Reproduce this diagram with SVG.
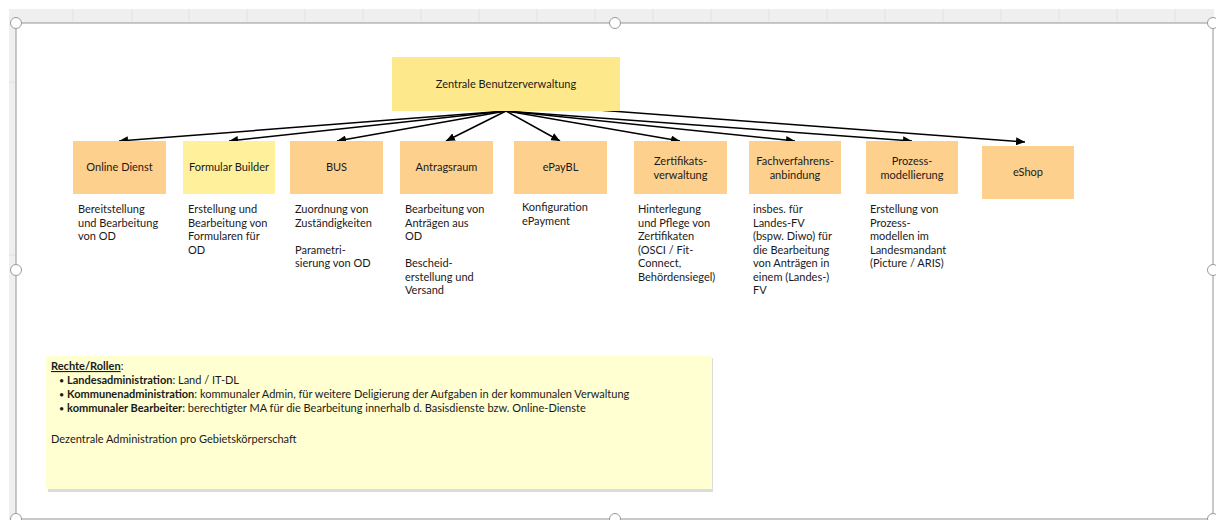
<svg xmlns="http://www.w3.org/2000/svg" width="1216" height="520" viewBox="0 0 1216 520">
  <style>
    .lbl { font-family: Lato, "Liberation Sans", sans-serif; font-size: 11px; fill: #1a1a1a; }
    .mid { text-anchor: middle; }
    .desc { font-family: Lato, "Liberation Sans", sans-serif; font-size: 11px; fill: #1a1a1a; }
    .note { font-family: Lato, "Liberation Sans", sans-serif; font-size: 11px; fill: #1a1a1a; }
    .b { font-weight: bold; }
    .dot { font-size: 9px; }
    .orange { fill: #fed08e; }
    .yellow { fill: #fde98b; }
    .conn { stroke: #000; stroke-width: 1.5; fill: none; marker-end: url(#arrow); }
    .frame { stroke: #a6a6a6; stroke-width: 1.2; fill: none; }
    .handle { fill: #fff; stroke: #9a9a9a; stroke-width: 1; }
  </style>
  <defs>
    <marker id="arrow" markerUnits="userSpaceOnUse" markerWidth="10" markerHeight="8" refX="9" refY="4" orient="auto">
      <path d="M0,0 L9,4 L0,8 z" fill="#000"/>
    </marker>
  </defs>

  <rect width="1216" height="520" fill="#fff"/>

  <!-- sheet headers -->
  <g id="sheet-headers">
    <rect x="9" y="9" width="1205" height="14" fill="#efefef"/>
    <rect x="9" y="9" width="7" height="511" fill="#efefef"/>
    <g stroke="#e2e2e2" stroke-width="1">
      <line x1="73" y1="9" x2="73" y2="22"/>
      <line x1="132" y1="9" x2="132" y2="22"/>
      <line x1="189" y1="9" x2="189" y2="22"/>
      <line x1="247" y1="9" x2="247" y2="22"/>
      <line x1="305" y1="9" x2="305" y2="22"/>
      <line x1="363" y1="9" x2="363" y2="22"/>
      <line x1="421" y1="9" x2="421" y2="22"/>
      <line x1="479" y1="9" x2="479" y2="22"/>
      <line x1="537" y1="9" x2="537" y2="22"/>
      <line x1="595" y1="9" x2="595" y2="22"/>
      <line x1="653" y1="9" x2="653" y2="22"/>
      <line x1="711" y1="9" x2="711" y2="22"/>
      <line x1="769" y1="9" x2="769" y2="22"/>
      <line x1="827" y1="9" x2="827" y2="22"/>
      <line x1="885" y1="9" x2="885" y2="22"/>
      <line x1="943" y1="9" x2="943" y2="22"/>
      <line x1="1001" y1="9" x2="1001" y2="22"/>
      <line x1="1059" y1="9" x2="1059" y2="22"/>
      <line x1="1117" y1="9" x2="1117" y2="22"/>
      <line x1="1175" y1="9" x2="1175" y2="22"/>
      <line x1="9" y1="82" x2="16" y2="82"/>
      <line x1="9" y1="255" x2="16" y2="255"/>
    </g>
  </g>

  <!-- connectors -->
  <g id="connectors">
    <line class="conn" x1="506" y1="111" x2="119" y2="141"/>
    <line class="conn" x1="506" y1="111" x2="229" y2="141"/>
    <line class="conn" x1="506" y1="111" x2="337" y2="141"/>
    <line class="conn" x1="506" y1="111" x2="446" y2="141"/>
    <line class="conn" x1="506" y1="111" x2="560" y2="141"/>
    <line class="conn" x1="506" y1="111" x2="680" y2="141"/>
    <line class="conn" x1="506" y1="111" x2="795" y2="141"/>
    <line class="conn" x1="506" y1="111" x2="912" y2="141"/>
    <line class="conn" x1="506" y1="103" x2="1025" y2="142"/>
  </g>

  <!-- central node -->
  <g id="zentrale-benutzerverwaltung">
    <rect class="yellow" x="392" y="57" width="228" height="54"/>
    <text class="lbl mid" x="506" y="88">Zentrale Benutzerverwaltung</text>
  </g>

  <g id="online-dienst">
    <rect class="orange" x="73" y="141" width="93" height="53"/>
    <text class="lbl mid" x="119.5" y="171">Online Dienst</text>
    <text class="desc" x="78"><tspan x="78" y="213">Bereitstellung</tspan><tspan x="78" y="226.5">und Bearbeitung</tspan><tspan x="78" y="240">von OD</tspan></text>
  </g>

  <g id="formular-builder">
    <rect x="183" y="141" width="92" height="53" fill="#fff09c"/>
    <text class="lbl mid" x="229" y="171">Formular Builder</text>
    <text class="desc"><tspan x="188" y="213">Erstellung und</tspan><tspan x="188" y="226.5">Bearbeitung von</tspan><tspan x="188" y="240">Formularen für</tspan><tspan x="188" y="253.5">OD</tspan></text>
  </g>

  <g id="bus">
    <rect class="orange" x="290" y="141" width="93" height="53"/>
    <text class="lbl mid" x="336.5" y="171">BUS</text>
    <text class="desc"><tspan x="295" y="213">Zuordnung von</tspan><tspan x="295" y="226.5">Zuständigkeiten</tspan><tspan x="295" y="253.5">Parametri-</tspan><tspan x="295" y="267">sierung von OD</tspan></text>
  </g>

  <g id="antragsraum">
    <rect class="orange" x="400" y="141" width="93" height="53"/>
    <text class="lbl mid" x="446.5" y="171">Antragsraum</text>
    <text class="desc"><tspan x="405" y="213">Bearbeitung von</tspan><tspan x="405" y="226.5">Anträgen aus</tspan><tspan x="405" y="240">OD</tspan><tspan x="405" y="267">Bescheid-</tspan><tspan x="405" y="280.5">erstellung und</tspan><tspan x="405" y="294">Versand</tspan></text>
  </g>

  <g id="epaybl">
    <rect class="orange" x="514" y="141" width="93" height="53"/>
    <text class="lbl mid" x="560.5" y="171">ePayBL</text>
    <text class="desc"><tspan x="522" y="211">Konfiguration</tspan><tspan x="522" y="224.5">ePayment</tspan></text>
  </g>

  <g id="zertifikatsverwaltung">
    <rect class="orange" x="634" y="141" width="93" height="53"/>
    <text class="lbl mid"><tspan x="680.5" y="165">Zertifikats-</tspan><tspan x="680.5" y="178.5">verwaltung</tspan></text>
    <text class="desc"><tspan x="638" y="213">Hinterlegung</tspan><tspan x="638" y="226.5">und Pflege von</tspan><tspan x="638" y="240">Zertifikaten</tspan><tspan x="638" y="253.5">(OSCI / Fit-</tspan><tspan x="638" y="267">Connect,</tspan><tspan x="638" y="280.5">Behördensiegel)</tspan></text>
  </g>

  <g id="fachverfahrensanbindung">
    <rect class="orange" x="749" y="141" width="92" height="53"/>
    <text class="lbl mid"><tspan x="795" y="165">Fachverfahrens-</tspan><tspan x="795" y="178.5">anbindung</tspan></text>
    <text class="desc"><tspan x="753" y="213">insbes. für</tspan><tspan x="753" y="226.5">Landes-FV</tspan><tspan x="753" y="240">(bspw. Diwo) für</tspan><tspan x="753" y="253.5">die Bearbeitung</tspan><tspan x="753" y="267">von Anträgen in</tspan><tspan x="753" y="280.5">einem (Landes-)</tspan><tspan x="753" y="294">FV</tspan></text>
  </g>

  <g id="prozessmodellierung">
    <rect class="orange" x="866" y="141" width="92" height="53"/>
    <text class="lbl mid"><tspan x="912" y="165">Prozess-</tspan><tspan x="912" y="178.5">modellierung</tspan></text>
    <text class="desc"><tspan x="870" y="213">Erstellung von</tspan><tspan x="870" y="226.5">Prozess-</tspan><tspan x="870" y="240">modellen im</tspan><tspan x="870" y="253.5">Landesmandant</tspan><tspan x="870" y="267">(Picture / ARIS)</tspan></text>
  </g>

  <g id="eshop">
    <rect class="orange" x="982" y="146" width="92" height="53"/>
    <text class="lbl mid" x="1028" y="176">eShop</text>
  </g>

  <!-- roles note -->
  <g id="rechte-rollen">
    <rect x="48" y="358" width="665" height="134" fill="#dcdcdc"/>
    <rect x="46" y="356" width="666" height="133" fill="#ffffd2"/>
    <text class="note" x="51" y="370"><tspan class="b" text-decoration="underline">Rechte/Rollen</tspan>:</text>
    <text class="note" x="59" y="384"><tspan class="dot">•</tspan> <tspan class="b">Landesadministration</tspan>: Land / IT-DL</text>
    <text class="note" x="59" y="398"><tspan class="dot">•</tspan> <tspan class="b">Kommunenadministration</tspan>: kommunaler Admin, für weitere Deligierung der Aufgaben in der kommunalen Verwaltung</text>
    <text class="note" x="59" y="412"><tspan class="dot">•</tspan> <tspan class="b">kommunaler Bearbeiter</tspan>: berechtigter MA für die Bearbeitung innerhalb d. Basisdienste bzw. Online-Dienste</text>
    <text class="note" x="51" y="443">Dezentrale Administration pro Gebietskörperschaft</text>
  </g>

  <!-- selection frame -->
  <g id="selection-frame">
    <rect class="frame" x="16" y="23" width="1197" height="496"/>
    <circle class="handle" cx="16" cy="23" r="5.5"/>
    <circle class="handle" cx="615" cy="23" r="5.5"/>
    <circle class="handle" cx="1213" cy="23" r="5.5"/>
    <circle class="handle" cx="16" cy="270" r="5.5"/>
    <circle class="handle" cx="1213" cy="270" r="5.5"/>
    <circle class="handle" cx="16" cy="519" r="5.5"/>
    <circle class="handle" cx="615" cy="519" r="5.5"/>
    <circle class="handle" cx="1213" cy="519" r="5.5"/>
  </g>
</svg>
